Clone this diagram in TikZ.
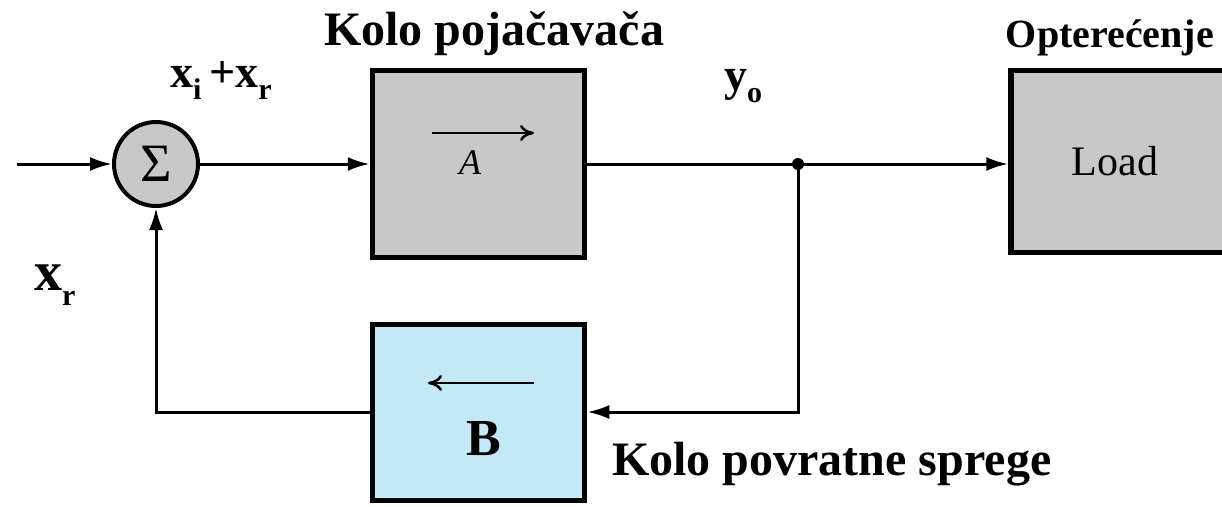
\documentclass[tikz,border=0pt]{standalone}
\usepackage{fontspec}
\setmainfont{Liberation Serif}
\usetikzlibrary{arrows.meta}
\definecolor{boxgray}{RGB}{200,200,200}
\definecolor{boxblue}{RGB}{196,233,246}
\newcommand{\subb}[1]{\raisebox{-0.28em}{\fontsize{30}{30}\selectfont\bfseries #1}}
\begin{document}
\begin{tikzpicture}[x=1pt,y=-1pt,
  blockbox/.style={draw=black,line width=5.5pt,minimum width=212pt,anchor=center,inner sep=0pt},
  conn/.style={line width=3pt},
  tip/.style={-{Latex[length=22pt,width=14pt]}},
  bigbold/.style={font=\fontsize{48}{48}\selectfont\bfseries,inner sep=0pt,anchor=base},
  varlabel/.style={font=\fontsize{46}{46}\selectfont\bfseries,inner sep=0pt,anchor=base west}]
\useasboundingbox (0,0) rectangle (1222,506);
% blocks
\node[draw=black,line width=4pt,fill=boxgray,circle,minimum size=84pt,inner sep=0pt,font=\fontsize{54}{54}\selectfont] (sum) at (156,164) {\raisebox{-0.03em}{Σ}};
\node[blockbox,fill=boxgray,minimum height=187pt] (amp) at (478.5,164) {};
\node[blockbox,fill=boxgray,minimum width=240pt,minimum height=182pt] (load) at (1131,161.5) {};
\node[blockbox,fill=boxblue,minimum height=176pt] (fb) at (478.5,412.5) {};
% inner symbols
\coordinate (aL) at (432,133);
\coordinate (aR) at (534,133);
\draw[line width=2.5pt,-{To[length=14pt,width=16pt]}] (aL) -- (aR);
\node[font=\fontsize{36}{36}\selectfont\itshape,inner sep=0pt,anchor=base] (alab) at (470,174) {A};
\coordinate (bR) at (534,383);
\coordinate (bL) at (428,383);
\draw[line width=2.5pt,-{To[length=14pt,width=16pt]}] (bR) -- (bL);
\node[font=\fontsize{52}{52}\selectfont\bfseries,inner sep=0pt,anchor=base] (blab) at (484,455) {B};
\node[font=\fontsize{42}{42}\selectfont,inner sep=0pt,anchor=base] (loadlab) at (1115,175) {Load};
% connectors
\coordinate (in) at (17,164);
\coordinate (junc) at (798,164);
\coordinate (fbR) at (798,412);
\coordinate (fbL) at (156,412);
\draw[conn,tip] (in) -- (sum.west);
\draw[conn,tip] (sum.east) -- (amp.west);
\draw[conn] (amp.east) -- (junc);
\draw[conn,tip] (junc) -- (load.west |- junc);
\draw[conn,tip] (junc) -- (fbR) -- (fb.east |- fbR);
\draw[conn,tip] (fb.west |- fbL) -- (fbL) -- (sum.south);
\fill (junc) circle (6pt);
% labels
\node[bigbold] (t1) at (494,45) {Kolo pojačavača};
\node[font=\fontsize{40}{40}\selectfont\bfseries,inner sep=0pt,anchor=base] (t2) at (1110,47) {Opterećenje};
\node[bigbold,anchor=base west] (t3) at (612,475) {Kolo povratne sprege};
\node[varlabel] (xixr) at (170,87) {x\subb{i}\,+x\subb{r}};
\node[varlabel] (yo) at (724,90) {y\subb{o}};
\node[font=\fontsize{56}{56}\selectfont\bfseries,inner sep=0pt,anchor=base west] (xr) at (34,290) {x\subb{r}};
\end{tikzpicture}
\end{document}
